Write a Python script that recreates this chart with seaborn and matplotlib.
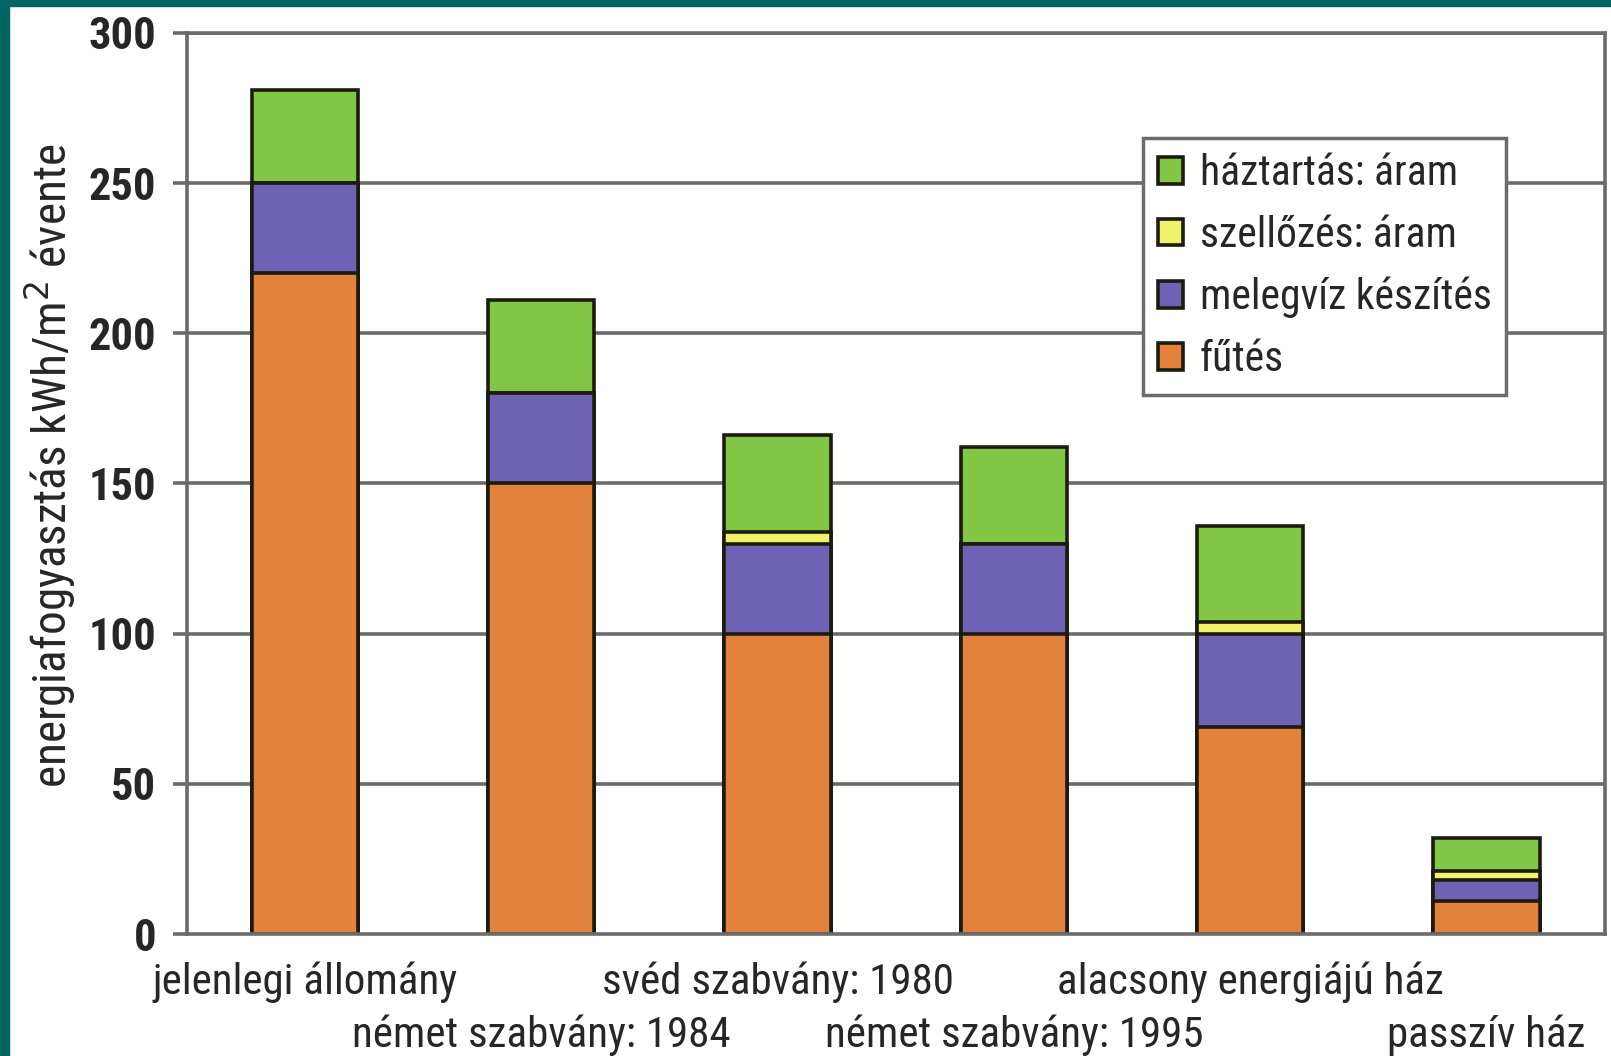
import matplotlib
matplotlib.use("Agg")
import matplotlib.pyplot as plt
from matplotlib import font_manager
from matplotlib.patches import Rectangle
import seaborn as sns
import pandas as pd
import numpy as np

# data (kWh/m2 per year)
categories = ["jelenlegi állomány", "német szabvány: 1984", "svéd szabvány: 1980",
              "német szabvány: 1995", "alacsony energiájú ház", "passzív ház"]
futes = [220, 150, 100, 100, 69, 11]
melegviz = [30, 30, 30, 30, 31, 7]
szellozes = [0, 0, 4, 0, 4, 3]
haztartas = [31, 31, 32, 32, 32, 11]
series_names = ["fűtés", "melegvíz készítés", "szellőzés: áram", "háztartás: áram"]
series_colors = ["#E2823C", "#6E62B4", "#EEF36A", "#82C646"]
yticks = [0, 50, 100, 150, 200, 250, 300]

# pick a condensed font if there is one
avail = {f.name for f in font_manager.fontManager.ttflist}
font = "DejaVu Sans"
for cand in ["Liberation Sans Narrow", "Roboto Condensed", "Open Sans Condensed",
             "Noto Sans Condensed", "Liberation Sans"]:
    if cand in avail:
        font = cand
        break

sns.set_theme(style="white")
plt.rcParams["font.family"] = [font, "DejaVu Sans"]

df = pd.DataFrame({"kat": categories, "f": futes, "m": melegviz,
                   "s": szellozes, "h": haztartas})
layers = [df["f"], df["f"] + df["m"], df["f"] + df["m"] + df["s"],
          df["f"] + df["m"] + df["s"] + df["h"]]

fig = plt.figure(figsize=(16.11, 10.56), dpi=100)
fig.patch.set_facecolor("white")
ax = fig.add_axes([0.116, 0.1155, 0.88, 0.8533])

# gridlines below the bars
for v in yticks[1:]:
    ax.axhline(v, color="#6b6b6b", lw=2.6, zorder=0)

# stacked bars: draw cumulative totals from the tallest down
for i in range(3, -1, -1):
    sns.barplot(x=df["kat"], y=layers[i], color=series_colors[i], width=0.45,
                edgecolor="#1d1a10", linewidth=2.6, saturation=1, ax=ax,
                label=series_names[i], zorder=2)

ax.set_ylim(0, 300)
ax.set_xlim(-0.49, 5.49)
ax.set_yticks(yticks)
ax.set_yticklabels([str(t) for t in yticks], fontsize=32, fontweight="bold")
ax.set_xticks(range(len(categories)))
ax.set_xticklabels(categories, fontsize=31)
ax.set_xticks(np.arange(-0.5, 6, 0.5), minor=True)
ax.tick_params(axis="x", which="major", length=8, width=1.5, color="#6b6b6b")
ax.tick_params(axis="x", which="minor", length=8, width=1.5, color="#6b6b6b")
for k, t in enumerate(ax.xaxis.get_major_ticks()):
    t.set_pad(12 if k % 2 == 0 else 50)
ax.tick_params(axis="y", length=10, width=2.6, color="#6b6b6b", pad=12, left=True)
ax.set_xlabel("")
ax.set_ylabel("energiafogyasztás kWh/m$^{2}$ évente", fontsize=34)
ax.yaxis.set_label_coords(-0.077, 0.52)
for sp in ax.spines.values():
    sp.set_color("#6b6b6b")
    sp.set_linewidth(2.6)

handles, labels = ax.get_legend_handles_labels()
leg = ax.legend(handles, labels, loc="upper left", bbox_to_anchor=(0.66, 0.906),
                fontsize=30, frameon=True, fancybox=False, edgecolor="#6b6b6b",
                framealpha=1, handlelength=0.6, handleheight=0.6, handletextpad=0.4,
                labelspacing=0.5, borderpad=0.35)
leg.get_frame().set_linewidth(2.5)

# teal frame at left and top
fig.patches.append(Rectangle((0, 0), 9 / 1611, 1, transform=fig.transFigure,
                             color="#006663", zorder=10))
fig.patches.append(Rectangle((0, 1 - 6 / 1056), 1, 6 / 1056, transform=fig.transFigure,
                             color="#006663", zorder=10))

fig.savefig("out.png", dpi=100)
